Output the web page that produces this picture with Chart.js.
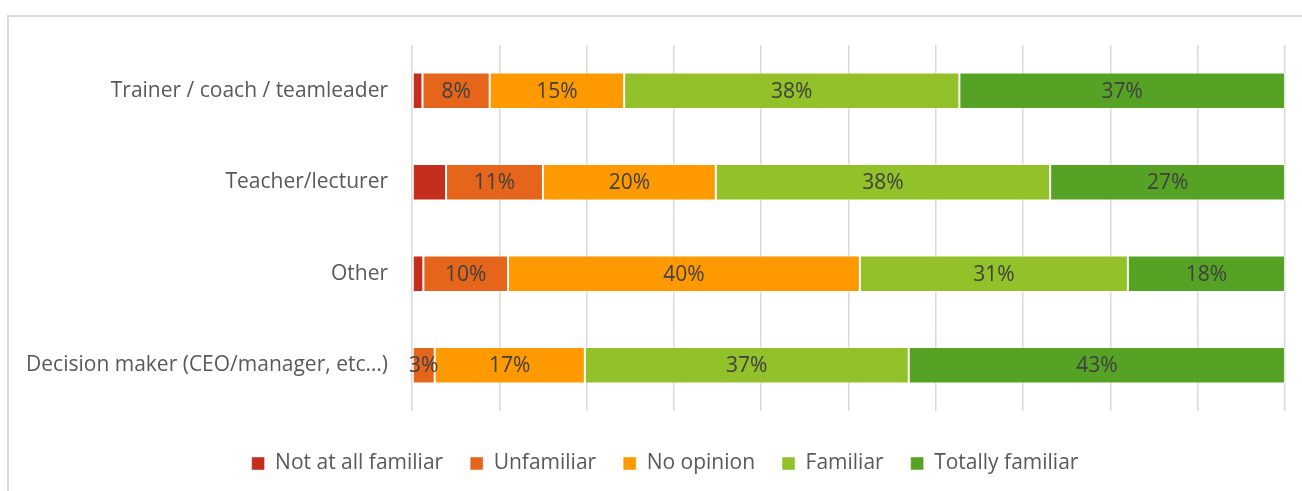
<!DOCTYPE html>
<html>
<head>
<meta charset="utf-8">
<script src="https://cdn.jsdelivr.net/npm/chart.js@4"></script>
<style>
    html, body { margin: 0; padding: 0; background: #fff; overflow: hidden; }
    #frame {
        position: absolute; left: 7px; top: 15px;
        width: 1400px; height: 600px;
        border-top: 2px solid #d9d9d9; border-left: 2px solid #d9d9d9;
    }
    #wrap { position: absolute; left: 0; top: 0; width: 1330px; height: 491px; }
</style>
</head>
<body>
<div id="frame"></div>
<div id="wrap"><canvas id="chart" width="1330" height="491"></canvas></div>
<script>
const roles = ["Trainer / coach / teamleader", "Teacher/lecturer", "Other", "Decision maker (CEO/manager, etc…)"];
const levels = ["Not at all familiar", "Unfamiliar", "No opinion", "Familiar", "Totally familiar"];

// share of respondents per role, in percent
const notAtAll = [1.2, 3.9, 1.3, 0];
const unfamiliar = [7.7, 11.1, 9.7, 2.6];
const noOpinion = [15.4, 19.8, 40.3, 17.2];
const familiar = [38.4, 38.3, 30.7, 37.1];
const totally = [37.3, 26.9, 18.0, 43.1];

const colors = ["#c42e1c", "#e5661b", "#ff9900", "#92c12a", "#55a224"];
const FONT = "Open Sans";
const SIZE = 21;

const series = [notAtAll, unfamiliar, noOpinion, familiar, totally];

// percent labels centred in each segment (the first series has none)
const segmentLabels = {
    id: "segmentLabels",
    afterDatasetsDraw(chart) {
        const ctx = chart.ctx;
        ctx.save();
        ctx.font = `${SIZE}px ${FONT}`;
        ctx.fillStyle = "#404040";
        ctx.textAlign = "center";
        ctx.textBaseline = "middle";
        chart.data.datasets.forEach((ds, i) => {
            if (i === 0) return;
            chart.getDatasetMeta(i).data.forEach((bar, j) => {
                const v = ds.data[j];
                if (!v) return;
                const cx = (bar.x + bar.base) / 2;
                ctx.fillText(Math.round(v) + "%", cx, bar.y + 1);
            });
        });
        ctx.restore();
    }
};

// centre the legend under the whole frame rather than the padded box
const legendShift = {
    id: "legendShift",
    afterLayout(chart) {
        if (!chart.legend) return;
        chart.legend.left += 22.5;
        chart.legend.right += 22.5;
    }
};

const ctx = document.getElementById("chart").getContext("2d");
new Chart(ctx, {
    type: "bar",
    data: {
        labels: roles,
        datasets: series.map((values, i) => ({
            label: levels[i],
            data: values,
            backgroundColor: colors[i],
            borderColor: "rgba(255,255,255,0.45)",
            borderWidth: 1,
            borderSkipped: false,
            categoryPercentage: 1,
            barPercentage: 0.4
        }))
    },
    options: {
        indexAxis: "y",
        responsive: false,
        animation: false,
        layout: { padding: { top: 45, right: 45, bottom: 7, left: 0 } },
        plugins: {
            tooltip: { enabled: false },
            legend: {
                position: "bottom",
                labels: {
                    font: { family: FONT, size: SIZE },
                    color: "#595959",
                    boxWidth: 13,
                    boxHeight: 13,
                    padding: 27
                }
            }
        },
        scales: {
            x: {
                stacked: true,
                min: 0,
                max: 100,
                ticks: { display: false, stepSize: 10 },
                grid: { color: "#d9d9d9", lineWidth: 1.5, drawTicks: false },
                border: { display: false },
                afterFit(scale) { scale.height = 15; }
            },
            y: {
                stacked: true,
                ticks: { font: { family: FONT, size: SIZE }, color: "#595959", padding: 16 },
                grid: { display: false },
                border: { display: false },
                afterFit(scale) { scale.width = 412; }
            }
        }
    },
    plugins: [segmentLabels, legendShift]
});
</script>
</body>
</html>
